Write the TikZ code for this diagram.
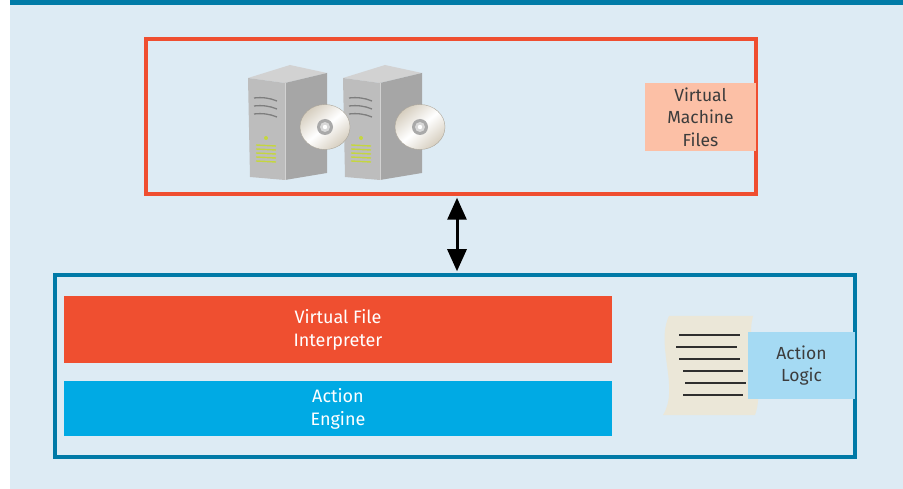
\documentclass[tikz,border=0pt]{standalone}
\usepackage{fontspec}
\setmainfont{Fira Sans}
\usetikzlibrary{arrows.meta}

\definecolor{bgblue}{HTML}{DDEBF4}
\definecolor{topband}{HTML}{007BA7}
\definecolor{vmred}{HTML}{EF4E30}
\definecolor{hostblue}{HTML}{0079A6}
\definecolor{barred}{HTML}{EF4F30}
\definecolor{barblue}{HTML}{00AAE4}
\definecolor{peach}{HTML}{FCC0A6}
\definecolor{skyblue}{HTML}{A5DAF3}
\definecolor{paper}{HTML}{EBE7D8}
\definecolor{ink}{HTML}{3C3C3C}
\definecolor{docline}{HTML}{2F2F2F}
\definecolor{towertop}{HTML}{D2D2D2}
\definecolor{towerfront}{HTML}{BDBDBD}
\definecolor{towerside}{HTML}{A6A6A6}
\definecolor{vent}{HTML}{7E7E7E}
\definecolor{ledgreen}{HTML}{C5D640}
\definecolor{discA}{HTML}{D6CEBF}
\definecolor{hub}{HTML}{A9A9A9}
\definecolor{hubin}{HTML}{D8D8D8}

\begin{document}
\begin{tikzpicture}[x=1pt,y=-1pt,
  frame/.style={draw, line width=3.5pt, inner sep=0pt},
  % a tall strut on the first line lowers the text block slightly
  lowered/.style={execute at begin node={\rule{0pt}{22pt}}},
  bar/.style={inner sep=0pt, text=white, align=center, lowered,
    font=\fontsize{18}{23}\selectfont},
  tag/.style={inner sep=0pt, text=ink, align=center, lowered,
    font=\fontsize{17.5}{22.5}\selectfont},
  docrule/.style={draw=docline, line width=2pt},
  ventline/.style={draw=vent, line width=1.3pt},
  ledline/.style={draw=ledgreen, line width=1.4pt},
  bigtip/.tip={Triangle[width=19pt,length=22pt]}
]
\useasboundingbox (0,0) rectangle (903,489);
\fill[bgblue] (10,0) rectangle (903,489);
\fill[topband] (10,0) rectangle (903,5);

% storage frame and host frame
\node[frame, draw=vmred, minimum width=610pt, minimum height=155pt] (vm) at (451,116.5) {};
\node[frame, draw=hostblue, minimum width=800pt, minimum height=182pt] (host) at (455,366) {};

% server towers
\foreach \dx in {0,95} {
  \begin{scope}[xshift=\dx pt]
    \fill[towertop] (248,78) -- (290,65) -- (327,73) -- (285,83) -- cycle;
    \fill[towerfront] (248,78) -- (285,83) -- (285,180) -- (250,177) -- cycle;
    \fill[towerside] (285,83) -- (327,73) -- (327,173) -- (285,180) -- cycle;
    \draw[white, opacity=0.5, line width=0.8pt] (285,83) -- (285,180);
    \draw[ventline] (254,98) .. controls (262,97) and (270,98) .. (277,101);
    \draw[ventline] (254,106) .. controls (262,105) and (270,106) .. (277,109);
    \draw[ventline] (254,114) .. controls (262,113) and (270,114) .. (277,117);
    \fill[ledgreen] (266,138) circle (2pt);
    \foreach \y in {145,149,153,157,161}
      \draw[ledline] (256,\y) -- (276,\y+1);
  \end{scope}
}

% discs
\foreach \dx in {0,95} {
  \begin{scope}[xshift=\dx pt]
    \shade[top color=discA, bottom color=discA, middle color=white, shading angle=40]
      (325,127) ellipse [x radius=25pt, y radius=22.5pt];
    \draw[discA!80!black, line width=0.4pt] (325,127) ellipse [x radius=25pt, y radius=22.5pt];
    \fill[hub] (325,127) circle (8pt);
    \fill[hubin] (325,127) circle (5pt);
    \fill[white] (325,127) circle (2.2pt);
  \end{scope}
}

\node[tag, fill=peach, minimum width=111pt, minimum height=68pt] (vmfiles) at (700.5,117)
  {Virtual\\Machine\\Files};

% components inside the host
\node[bar, fill=barred, minimum width=548pt, minimum height=67pt] (interp) at (338,329.5)
  {Virtual File\\Interpreter};
\node[bar, fill=barblue, minimum width=548pt, minimum height=55pt] (engine) at (338,408.5)
  {Action\\Engine};

% logic document
\fill[paper] (669,316) -- (753,316) .. controls (745,345) and (766,385) .. (755,415)
  -- (663,415) .. controls (680,388) and (655,345) .. (669,316) -- cycle;
\draw[docrule] (679,335) -- (740,335);
\draw[docrule] (676,347) -- (737,347);
\draw[docrule] (679,359) -- (740,359);
\draw[docrule] (683,371) -- (743,371);
\draw[docrule] (685,383) -- (746,383);
\draw[docrule] (683,395) -- (743,395);

\node[tag, fill=skyblue, minimum width=107pt, minimum height=67pt] (logic) at (801.5,365.5)
  {Action\\Logic};

% link between the two frames
\draw[line width=3pt, bigtip-bigtip] ([xshift=6pt,yshift=-2pt]vm.south) -- ([xshift=2pt,yshift=2pt]host.north);
\end{tikzpicture}
\end{document}
